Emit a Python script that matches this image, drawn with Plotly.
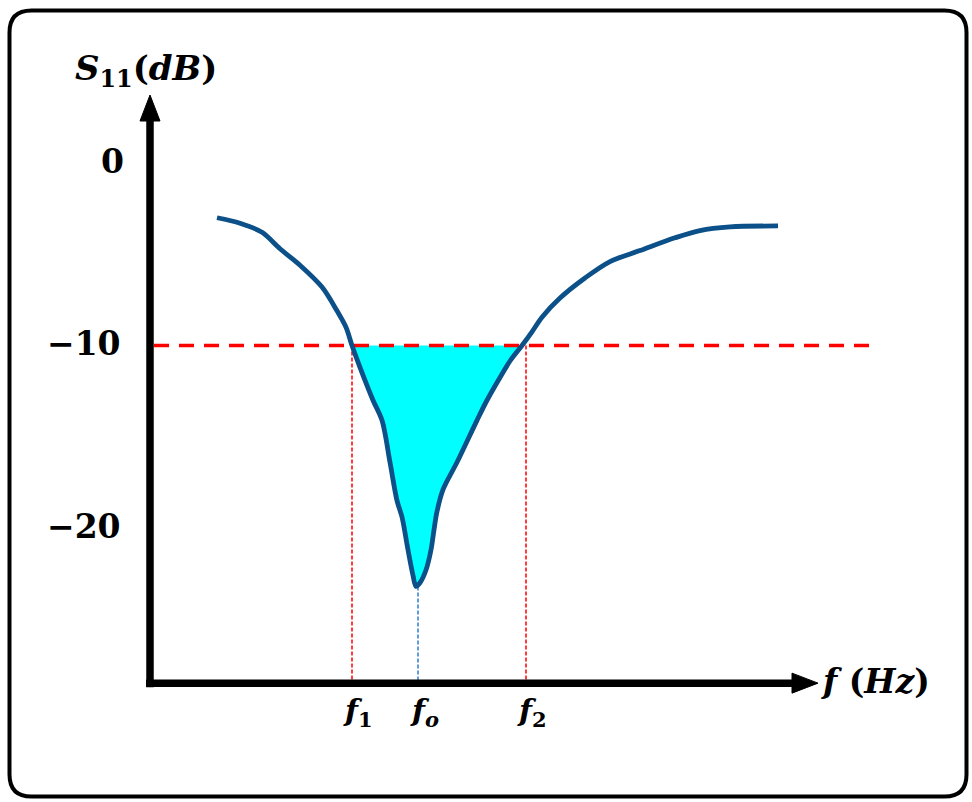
import plotly.graph_objects as go

# ---- data (frequency in arbitrary units, S11 in dB) ----
freq = [0.67, 0.90, 1.12, 1.30, 1.50, 1.72, 1.87, 1.96, 2.02, 2.10, 2.23, 2.32, 2.40, 2.47,
        2.52, 2.58, 2.63, 2.66, 2.70, 2.76, 2.81, 2.84, 2.87, 2.93, 3.07, 3.27, 3.37, 3.50,
        3.60, 3.72, 3.82, 3.92, 4.10, 4.35, 4.60, 4.90, 5.25, 5.50, 5.80, 6.28]
s11 = [-3.0, -3.3, -3.8, -4.7, -5.6, -6.8, -8.1, -9.0, -10.0, -11.2, -13.0, -14.1, -16.4, -18.5,
       -19.4, -21.2, -22.6, -23.2, -23.0, -22.3, -21.2, -20.1, -19.1, -17.9, -16.4, -14.1, -13.0, -11.75,
       -10.85, -10.0, -9.25, -8.45, -7.4, -6.3, -5.4, -4.8, -4.1, -3.7, -3.5, -3.45]
threshold = -10
f1, fo, f2 = 2.02, 2.68, 3.76
ytick_vals = [0, -10, -20]
ytick_text = ["0", "\u221210", "\u221220"]
xlabels = ["<i>f</i><sub>1</sub>", "<i>f</i><sub><i>o</i></sub>", "<i>f</i><sub>2</sub>"]

# ---- scale helpers (figure is 972 x 802 with zero margins) ----
W, H = 972, 802
X0_PX, XS = 150, 100.0      # pixel of f=0, pixels per unit
Y0_PX, YS = 163, 18.25      # pixel of 0 dB, pixels per dB
xr = [(0 - X0_PX) / XS, (W - X0_PX) / XS]
yr = [-(H - Y0_PX) / YS, Y0_PX / YS]
dx = 1 / XS
dy = 1 / YS
axis_y = -28.5
axis_x = 0.0
FONT = "DejaVu Serif"
SMOOTH = 0.9

fig = go.Figure()

# cyan fill between curve and -10 dB
i1 = freq.index(2.02)
i2 = freq.index(3.72)
fig.add_trace(go.Scatter(x=freq[i1:i2 + 1], y=s11[i1:i2 + 1], fill="toself",
                         fillcolor="#00FFFF", line=dict(width=0, shape="spline", smoothing=SMOOTH),
                         mode="lines", hoverinfo="skip", showlegend=False))

# -10 dB dashed line
fig.add_trace(go.Scatter(x=[axis_x + 4 * dx, 7.2], y=[threshold, threshold], mode="lines",
                         line=dict(color="#FF0000", width=3.5, dash="15px,10px"), showlegend=False))
# vertical markers
for xv, ytop, col in [(f1, threshold, "#FF0000"), (f2, threshold, "#FF0000"), (fo, min(s11), "#2E7CD0")]:
    fig.add_trace(go.Scatter(x=[xv, xv], y=[ytop, axis_y], mode="lines",
                             line=dict(color=col, width=1.5, dash="4px,2px"), showlegend=False))

# main curve
fig.add_trace(go.Scatter(x=freq, y=s11, mode="lines",
                         line=dict(color="#0B5088", width=4.8, shape="spline", smoothing=SMOOTH),
                         showlegend=False))

shapes = []
# axes
shapes.append(dict(type="line", x0=axis_x, x1=axis_x, y0=axis_y - 4 * dy, y1=(Y0_PX - 118) * dy,
                   line=dict(color="black", width=7.5), layer="above"))
shapes.append(dict(type="line", x0=axis_x - 4 * dx, x1=(795 - X0_PX) * dx, y0=axis_y, y1=axis_y,
                   line=dict(color="black", width=7.5), layer="above"))
# arrow heads
ytip = (Y0_PX - 95) * dy
shapes.append(dict(type="path", layer="above", fillcolor="black", line=dict(color="black", width=1),
                   path=f"M {axis_x - 10*dx} {ytip - 26*dy} L {axis_x + 10*dx} {ytip - 26*dy} L {axis_x} {ytip} Z"))
xtip = (818 - X0_PX) * dx
shapes.append(dict(type="path", layer="above", fillcolor="black", line=dict(color="black", width=1),
                   path=f"M {xtip - 26*dx} {axis_y + 10*dy} L {xtip - 26*dx} {axis_y - 10*dy} L {xtip} {axis_y} Z"))

# rounded border in paper coords
def P(px, py):
    return f"{px / W:.5f},{1 - py / H:.5f}"
L_, T_, R_, B_, rr = 9.5, 10.5, 966.5, 796.5, 22
border = (f"M {P(L_ + rr, T_)} L {P(R_ - rr, T_)} Q {P(R_, T_)} {P(R_, T_ + rr)} "
          f"L {P(R_, B_ - rr)} Q {P(R_, B_)} {P(R_ - rr, B_)} "
          f"L {P(L_ + rr, B_)} Q {P(L_, B_)} {P(L_, B_ - rr)} "
          f"L {P(L_, T_ + rr)} Q {P(L_, T_)} {P(L_ + rr, T_)} Z")
shapes.append(dict(type="path", xref="paper", yref="paper", path=border,
                   line=dict(color="black", width=4), layer="above"))

annotations = []
for v, t in zip(ytick_vals, ytick_text):
    xa = axis_x - (24 if t == "0" else 27) * dx
    annotations.append(dict(x=xa, y=v + 0.1, text=f"<b>{t}</b>", showarrow=False,
                            xanchor="right", yanchor="middle", font=dict(family=FONT, size=33, color="black")))
annotations.append(dict(x=axis_x - 4 * dx, y=(Y0_PX - 70) * dy,
                        text="<b><i>S</i><sub>11</sub>(<i>dB</i>)</b>", showarrow=False,
                        xanchor="center", yanchor="middle", font=dict(family=FONT, size=34, color="black")))
for xv, t in zip([f1, fo, f2], xlabels):
    annotations.append(dict(x=xv, y=axis_y - 29 * dy, text=f"<b>{t}</b>", showarrow=False, xshift=6,
                            xanchor="center", yanchor="middle", font=dict(family=FONT, size=30, color="black")))
annotations.append(dict(x=(819 - X0_PX) * dx, y=axis_y + 0.1, text="<b><i>f</i> (<i>Hz</i>)</b>", showarrow=False,
                        xanchor="left", yanchor="middle", font=dict(family=FONT, size=33, color="black")))

fig.update_layout(
    width=W, height=H, autosize=False,
    margin=dict(l=0, r=0, t=0, b=0),
    paper_bgcolor="white", plot_bgcolor="white",
    xaxis=dict(range=xr, visible=False, fixedrange=True),
    yaxis=dict(range=yr, visible=False, fixedrange=True),
    shapes=shapes, annotations=annotations, showlegend=False,
)

fig.write_html("out.html", config={"displayModeBar": False},
               post_script="document.body.style.margin='0';document.body.style.overflow='hidden';")
